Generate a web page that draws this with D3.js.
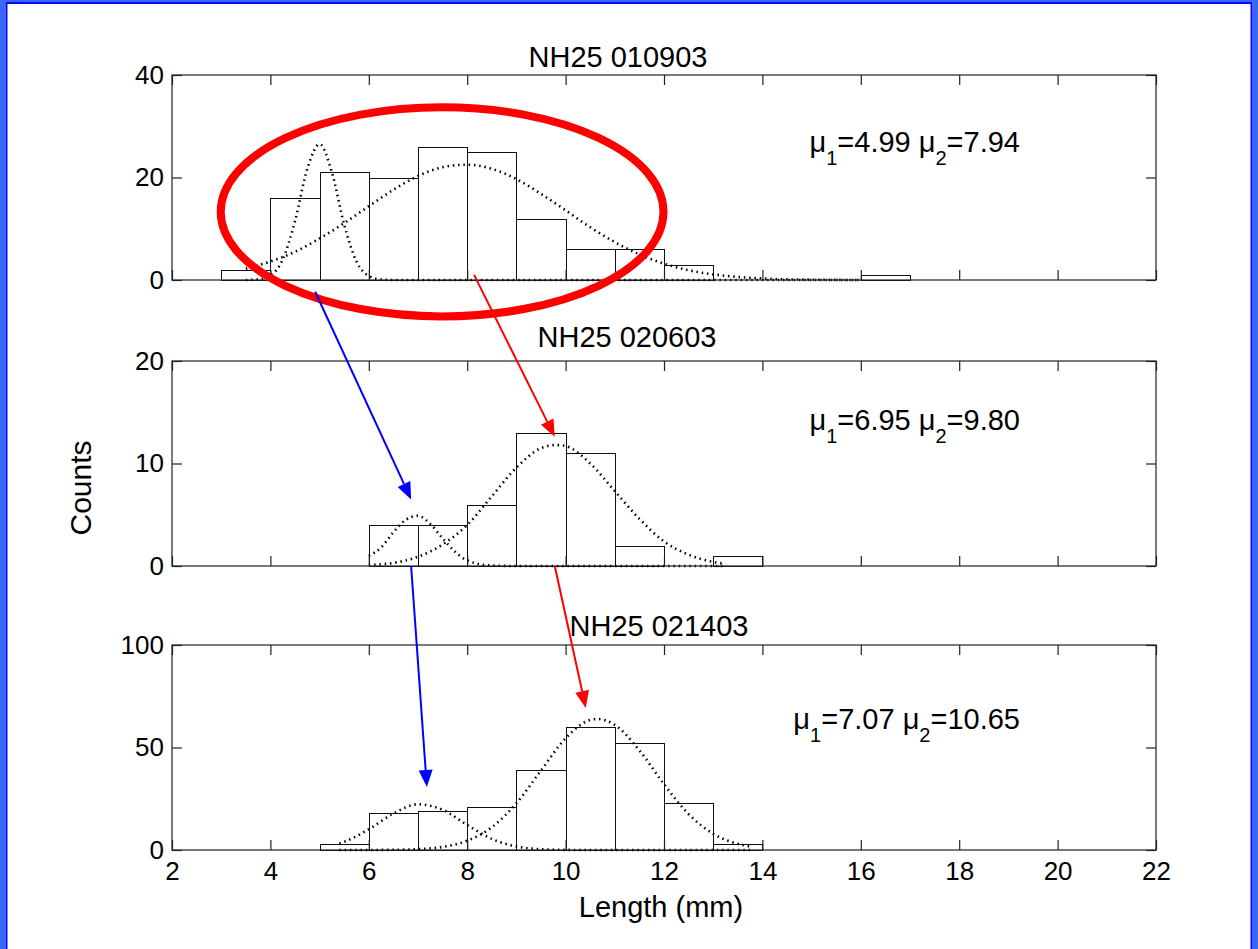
<!DOCTYPE html>
<html><head><meta charset="utf-8">
<script src="https://cdn.jsdelivr.net/npm/d3@7"></script>
<style>
html,body{margin:0;padding:0;background:#fff;}
svg{display:block;}
text{font-family:"Liberation Sans",Arial,Helvetica,sans-serif;fill:#000;}
</style></head><body>
<svg id="chart" width="1258" height="949"></svg>
<script>
// ---------- data ----------
const panelTitles = ["NH25 010903", "NH25 020603", "NH25 021403"];
const xTicks = [2, 4, 6, 8, 10, 12, 14, 16, 18, 20, 22];
const yTicks1 = [0, 20, 40];
const yTicks2 = [0, 10, 20];
const yTicks3 = [0, 50, 100];

// histogram bins (left edge, width 1 mm) and counts
const binLeft1 = [3, 4, 5, 6, 7, 8, 9, 10, 11, 12, 13, 14, 15, 16];
const counts1  = [2, 16, 21, 20, 26, 25, 12, 6, 6, 3, 0, 0, 0, 1];
const binLeft2 = [6, 7, 8, 9, 10, 11, 12, 13];
const counts2  = [4, 4, 6, 13, 11, 2, 0, 1];
const binLeft3 = [5, 6, 7, 8, 9, 10, 11, 12, 13];
const counts3  = [3, 18, 19, 21, 39, 60, 52, 23, 3];

// fitted component curves
const fit1aX = [3.5, 3.75, 4, 4.25, 4.5, 4.75, 5, 5.25, 5.5, 5.75, 6, 6.25, 6.5, 16];
const fit1aY = [0, 0.13, 0.9, 4.0, 11.5, 21.7, 26.5, 21.0, 10.8, 3.6, 0.8, 0.1, 0, 0];
const fit1bX = [3.5, 4, 4.5, 5, 5.5, 6, 6.5, 7, 7.5, 8, 8.5, 9, 9.5, 10, 10.5, 11, 11.5, 12, 12.5, 13, 13.5, 14, 14.5, 15, 15.5, 16];
const fit1bY = [2.2, 3.6, 5.5, 8.1, 11.1, 14.4, 17.6, 20.3, 22.0, 22.5, 21.7, 19.7, 16.8, 13.6, 10.3, 7.4, 5.0, 3.2, 1.9, 1.1, 0.6, 0.3, 0.13, 0.06, 0.02, 0];
const fit2aX = [6, 6.25, 6.5, 6.75, 7, 7.25, 7.5, 7.75, 8, 8.5, 9, 13.25];
const fit2aY = [1.0, 1.8, 3.3, 4.5, 4.9, 4.1, 2.7, 1.4, 0.54, 0.04, 0, 0];
const fit2bX = [6, 6.5, 7, 7.5, 8, 8.5, 9, 9.5, 9.8, 10, 10.5, 11, 11.5, 12, 12.5, 13, 13.25];
const fit2bY = [0.1, 0.3, 0.9, 2.1, 4.0, 6.8, 9.6, 11.5, 11.8, 11.7, 10.0, 7.3, 4.6, 2.4, 1.1, 0.4, 0.2];
const fit3aX = [5.4, 5.5, 6, 6.5, 7, 7.5, 8, 8.5, 9, 9.5, 10, 10.5, 13.8];
const fit3aY = [3.2, 4.0, 10.1, 17.8, 22.3, 19.6, 12.2, 5.4, 1.7, 0.4, 0.06, 0, 0];
const fit3bX = [5.4, 6, 6.5, 7, 7.5, 8, 8.5, 9, 9.5, 10, 10.5, 10.65, 11, 11.5, 12, 12.5, 13, 13.5, 13.8];
const fit3bY = [0, 0.02, 0.1, 0.4, 1.5, 4.5, 11.1, 22.8, 38.8, 54.5, 63.4, 63.9, 61.0, 48.6, 32.1, 17.5, 7.9, 3.0, 1.5];

const mu1Values = ["4.99", "6.95", "7.07"];
const mu2Values = ["7.94", "9.80", "10.65"];

// ---------- layout ----------
const W = 1258, H = 949;
const svg = d3.select("#chart");
const xLeft = 172, xRight = 1156;
const panelTop = [75, 361, 645];
const panelH = 205;
const yMax = [40, 20, 100];
const yTickSets = [yTicks1, yTicks2, yTicks3];
const bins = [[binLeft1, counts1], [binLeft2, counts2], [binLeft3, counts3]];
const fits = [
  [[fit1aX, fit1aY], [fit1bX, fit1bY]],
  [[fit2aX, fit2aY], [fit2bX, fit2bY]],
  [[fit3aX, fit3aY], [fit3bX, fit3bY]]
];
const titlePos = [[618, 67], [627, 347], [659, 636]];
const muPos = [[1020, 152], [1020, 430], [1020, 729]];

// background + frame
svg.append("rect").attr("width", W).attr("height", H).attr("fill", "#fff");
svg.append("rect").attr("x", 0).attr("y", 0).attr("width", 6).attr("height", H).attr("fill", "#3a66ff");
svg.append("rect").attr("x", 6).attr("y", 0).attr("width", 1.5).attr("height", H).attr("fill", "#0a0af5");
svg.append("rect").attr("x", 0).attr("y", 0).attr("width", W).attr("height", 2).attr("fill", "#3a66ff");
svg.append("rect").attr("x", 6).attr("y", 2).attr("width", W - 12).attr("height", 2).attr("fill", "#0a0af5");
svg.append("rect").attr("x", W - 6).attr("y", 0).attr("width", 6).attr("height", H).attr("fill", "#3a66ff");
svg.append("rect").attr("x", W - 7.5).attr("y", 2).attr("width", 1.5).attr("height", H).attr("fill", "#0a0af5");

const x = d3.scaleLinear().domain([2, 22]).range([xLeft, xRight]);
const yScales = [];

panelTop.forEach((top, p) => {
  const y = d3.scaleLinear().domain([0, yMax[p]]).range([top + panelH, top]);
  yScales.push(y);
  const g = svg.append("g");

  // bars
  const [lefts, counts] = bins[p];
  const barData = lefts.map((l, i) => ({ l, c: counts[i] })).filter(d => d.c > 0);
  g.append("g").selectAll("rect").data(barData).join("rect")
    .attr("x", d => Math.round(x(d.l)) + 0.5)
    .attr("width", d => Math.round(x(d.l + 1)) - Math.round(x(d.l)))
    .attr("y", d => Math.round(y(d.c)) + 0.5)
    .attr("height", d => Math.round(y(0)) - Math.round(y(d.c)))
    .attr("fill", "#fff").attr("stroke", "#111").attr("stroke-width", 1)
    .attr("shape-rendering", "crispEdges");

  // fitted curves (dotted)
  const line = d3.line().x(d => x(d[0])).y(d => y(d[1])).curve(d3.curveMonotoneX);
  fits[p].forEach(([xs, ys]) => {
    g.append("path").datum(xs.map((v, i) => [v, ys[i]]))
      .attr("d", line).attr("fill", "none").attr("stroke", "#000")
      .attr("stroke-width", 2.6).attr("stroke-dasharray", "1.5,3.8");
  });

  // axes (ticks inward on all sides)
  const bottomAx = d3.axisBottom(x).tickValues(xTicks).tickSize(-10).tickPadding(12)
    .tickFormat(p === 2 ? d3.format("d") : () => "");
  const topAx = d3.axisTop(x).tickValues(xTicks).tickSize(-10).tickFormat(() => "");
  const leftAx = d3.axisLeft(y).tickValues(yTickSets[p]).tickSize(-10).tickPadding(8).tickFormat(d3.format("d"));
  const rightAx = d3.axisRight(y).tickValues(yTickSets[p]).tickSize(-10).tickFormat(() => "");
  const axStyle = sel => {
    sel.select(".domain").remove();
    sel.selectAll("line").attr("stroke", "#222").attr("stroke-width", 1.2);
    sel.selectAll("text").attr("font-size", 26).attr("fill", "#000")
      .attr("font-family", '"Liberation Sans", Arial, sans-serif');
  };
  g.append("g").attr("transform", `translate(0,${y(0)})`).call(bottomAx).call(axStyle);
  g.append("g").attr("transform", `translate(0,${y(yMax[p])})`).call(topAx).call(axStyle);
  g.append("g").attr("transform", `translate(${xLeft},0)`).call(leftAx).call(axStyle);
  g.append("g").attr("transform", `translate(${xRight},0)`).call(rightAx).call(axStyle);
  g.append("rect").attr("x", xLeft).attr("y", y(yMax[p])).attr("width", xRight - xLeft)
    .attr("height", y(0) - y(yMax[p])).attr("fill", "none").attr("stroke", "#222").attr("stroke-width", 1.2);

  // title
  g.append("text").attr("x", titlePos[p][0]).attr("y", titlePos[p][1])
    .attr("text-anchor", "middle").attr("font-size", 29).text(panelTitles[p]);

  // mu annotation
  const t = g.append("text").attr("x", muPos[p][0]).attr("y", muPos[p][1])
    .attr("text-anchor", "end").attr("font-size", 29);
  t.append("tspan").text("\u03bc");
  t.append("tspan").attr("font-size", 20).attr("dy", 13).text("1");
  t.append("tspan").attr("dy", -13).text("=" + mu1Values[p] + " \u03bc");
  t.append("tspan").attr("font-size", 20).attr("dy", 13).text("2");
  t.append("tspan").attr("dy", -13).text("=" + mu2Values[p]);
});

// axis labels
svg.append("text").attr("x", 661).attr("y", 917).attr("text-anchor", "middle")
  .attr("font-size", 29).text("Length (mm)");
svg.append("text").attr("transform", "translate(91,488) rotate(-90)").attr("text-anchor", "middle")
  .attr("font-size", 30).text("Counts");

// ---------- annotations (in data coordinates: [panel, x, count]) ----------
const ellipse = { panel: 0, cx: 7.49, cy: 13.3, rx: 4.5, ry: 20.4 };
const arrows = [
  { color: "#0000ff", from: [0, 4.91, -2.3], to: [1, 6.86, 6.5] },
  { color: "#ff0000", from: [0, 8.14, 1.0], to: [1, 9.78, 12.6] },
  { color: "#0000ff", from: [1, 6.86, 0], to: [2, 7.18, 30.7] },
  { color: "#ff0000", from: [1, 9.78, 0], to: [2, 10.41, 69.3] }
];

const ann = svg.append("g");
{
  const y = yScales[ellipse.panel];
  ann.append("ellipse")
    .attr("cx", x(ellipse.cx)).attr("cy", y(ellipse.cy))
    .attr("rx", x(ellipse.cx + ellipse.rx) - x(ellipse.cx))
    .attr("ry", y(0) - y(ellipse.ry))
    .attr("fill", "none").attr("stroke", "#ff0000").attr("stroke-width", 8);
}
arrows.forEach(a => {
  const x1 = x(a.from[1]), y1 = yScales[a.from[0]](a.from[2]);
  const x2 = x(a.to[1]), y2 = yScales[a.to[0]](a.to[2]);
  const ang = Math.atan2(y2 - y1, x2 - x1);
  const L = 17, hw = 7;
  const bx = x2 - L * Math.cos(ang), by = y2 - L * Math.sin(ang);
  ann.append("line").attr("x1", x1).attr("y1", y1).attr("x2", bx).attr("y2", by)
    .attr("stroke", a.color).attr("stroke-width", 2);
  const px = -Math.sin(ang) * hw, py = Math.cos(ang) * hw;
  ann.append("polygon")
    .attr("points", [[x2, y2], [bx + px, by + py], [bx - px, by - py]].map(d => d.join(",")).join(" "))
    .attr("fill", a.color);
});
</script></body></html>
